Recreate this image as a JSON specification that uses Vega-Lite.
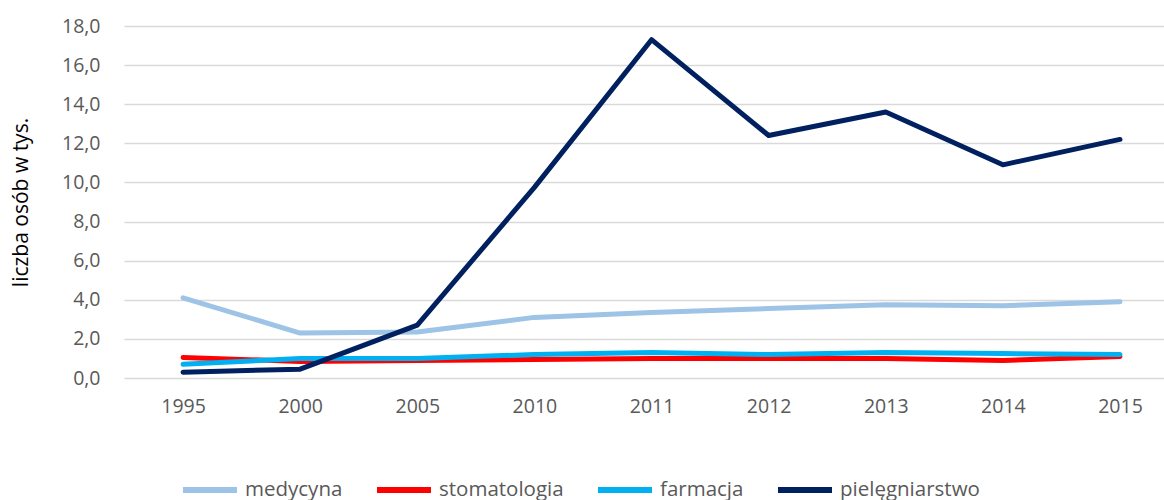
{
  "$schema": "https://vega.github.io/schema/vega-lite/v6.json",
  "width": 1040,
  "height": 352,
  "autosize": "none",
  "padding": {"left": 124, "top": 26, "right": 0, "bottom": 122},
  "background": "white",
  "data": {
    "values": [
      {"rok": "1995", "kierunek": "medycyna", "wartosc": 4.1},
      {"rok": "2000", "kierunek": "medycyna", "wartosc": 2.3},
      {"rok": "2005", "kierunek": "medycyna", "wartosc": 2.35},
      {"rok": "2010", "kierunek": "medycyna", "wartosc": 3.1},
      {"rok": "2011", "kierunek": "medycyna", "wartosc": 3.35},
      {"rok": "2012", "kierunek": "medycyna", "wartosc": 3.55},
      {"rok": "2013", "kierunek": "medycyna", "wartosc": 3.75},
      {"rok": "2014", "kierunek": "medycyna", "wartosc": 3.7},
      {"rok": "2015", "kierunek": "medycyna", "wartosc": 3.9},
      {"rok": "1995", "kierunek": "stomatologia", "wartosc": 1.05},
      {"rok": "2000", "kierunek": "stomatologia", "wartosc": 0.85},
      {"rok": "2005", "kierunek": "stomatologia", "wartosc": 0.9},
      {"rok": "2010", "kierunek": "stomatologia", "wartosc": 0.95},
      {"rok": "2011", "kierunek": "stomatologia", "wartosc": 1.0},
      {"rok": "2012", "kierunek": "stomatologia", "wartosc": 1.0},
      {"rok": "2013", "kierunek": "stomatologia", "wartosc": 1.0},
      {"rok": "2014", "kierunek": "stomatologia", "wartosc": 0.9},
      {"rok": "2015", "kierunek": "stomatologia", "wartosc": 1.1},
      {"rok": "1995", "kierunek": "farmacja", "wartosc": 0.7},
      {"rok": "2000", "kierunek": "farmacja", "wartosc": 1.0},
      {"rok": "2005", "kierunek": "farmacja", "wartosc": 1.0},
      {"rok": "2010", "kierunek": "farmacja", "wartosc": 1.2},
      {"rok": "2011", "kierunek": "farmacja", "wartosc": 1.3},
      {"rok": "2012", "kierunek": "farmacja", "wartosc": 1.2},
      {"rok": "2013", "kierunek": "farmacja", "wartosc": 1.3},
      {"rok": "2014", "kierunek": "farmacja", "wartosc": 1.25},
      {"rok": "2015", "kierunek": "farmacja", "wartosc": 1.2},
      {"rok": "1995", "kierunek": "pielęgniarstwo", "wartosc": 0.3},
      {"rok": "2000", "kierunek": "pielęgniarstwo", "wartosc": 0.45},
      {"rok": "2005", "kierunek": "pielęgniarstwo", "wartosc": 2.7},
      {"rok": "2010", "kierunek": "pielęgniarstwo", "wartosc": 9.75},
      {"rok": "2011", "kierunek": "pielęgniarstwo", "wartosc": 17.3},
      {"rok": "2012", "kierunek": "pielęgniarstwo", "wartosc": 12.4},
      {"rok": "2013", "kierunek": "pielęgniarstwo", "wartosc": 13.6},
      {"rok": "2014", "kierunek": "pielęgniarstwo", "wartosc": 10.9},
      {"rok": "2015", "kierunek": "pielęgniarstwo", "wartosc": 12.2}
    ]
  },
  "mark": {"type": "line", "strokeWidth": 5, "strokeCap": "round", "strokeJoin": "round"},
  "encoding": {
    "x": {
      "field": "rok",
      "type": "ordinal",
      "scale": {"type": "point", "padding": 0.44, "align": 0.573},
      "axis": {
        "title": null,
        "labelAngle": 0,
        "domain": false,
        "ticks": false,
        "grid": false,
        "labelPadding": 19,
        "labelFont": "Open Sans",
        "labelFontSize": 19.5,
        "labelColor": "#595959"
      }
    },
    "y": {
      "field": "wartosc",
      "type": "quantitative",
      "scale": {"domain": [0, 18], "nice": false},
      "axis": {
        "values": [0, 2, 4, 6, 8, 10, 12, 14, 16, 18],
        "labelExpr": "replace(format(datum.value, '.1f'), '.', ',')",
        "title": "liczba osób w tys.",
        "titleFont": "Open Sans",
        "titleFontSize": 21,
        "titleFontWeight": "normal",
        "titleColor": "#000000",
        "titlePadding": 30,
        "domain": false,
        "ticks": false,
        "labelPadding": 24,
        "labelFont": "Open Sans",
        "labelFontSize": 19.5,
        "labelColor": "#595959",
        "gridColor": "#d9d9d9",
        "gridWidth": 1.5
      }
    },
    "color": {
      "field": "kierunek",
      "type": "nominal",
      "sort": ["medycyna", "stomatologia", "farmacja", "pielęgniarstwo"],
      "scale": {
        "domain": ["medycyna", "stomatologia", "farmacja", "pielęgniarstwo"],
        "range": ["#9DC3E6", "#FF0000", "#00B0F0", "#002060"]
      },
      "legend": {
        "title": null,
        "orient": "none",
        "direction": "horizontal",
        "legendX": 56,
        "legendY": 434,
        "symbolType": "stroke",
        "symbolStrokeWidth": 6,
        "symbolSize": 2916,
        "labelFont": "Open Sans",
        "labelFontSize": 20.5,
        "labelColor": "#595959",
        "labelOffset": 5,
        "columnPadding": 22,
        "symbolOpacity": 1
      }
    }
  },
  "config": {
    "view": {"stroke": null}
  }
}
